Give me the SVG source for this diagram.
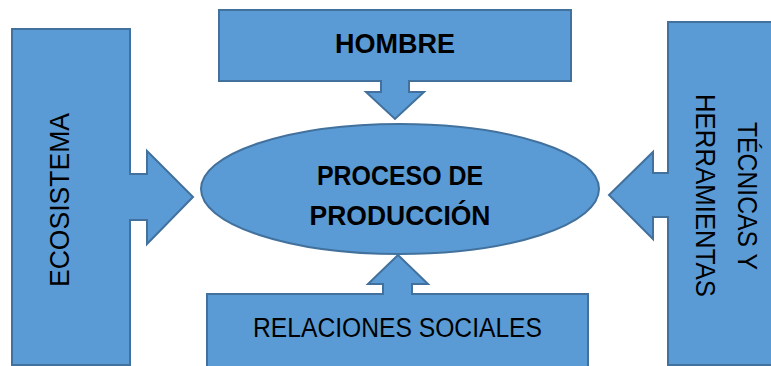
<svg xmlns="http://www.w3.org/2000/svg" width="771" height="366" viewBox="0 0 771 366">
<style>
.shape{fill:#5B9BD5;stroke:#41719C;stroke-width:2;stroke-linejoin:miter}
.t{font-family:"Liberation Sans",Arial,sans-serif;font-size:27px;fill:#000;text-anchor:middle}
.b{font-weight:bold}
</style>
<rect width="771" height="366" fill="#fff"/>
<g id="connectors"></g>
<g id="ecosistema">
<path class="shape" d="M12,29 H130 V174 H147 V151 L193,197 L147,244 V220 H130 V365 H12 Z"/>
<text class="t" transform="translate(69,200) rotate(-90)" textLength="174" lengthAdjust="spacingAndGlyphs">ECOSISTEMA</text>
</g>
<g id="hombre">
<path class="shape" d="M219,10 H571 V81 H409 V92 H424 L395,119 L366,92 H381 V81 H219 Z"/>
<text class="t b" x="395" y="53" textLength="120" lengthAdjust="spacingAndGlyphs">HOMBRE</text>
</g>
<g id="tecnicas">
<path class="shape" d="M775,22 H668 V173 H653 V152 L609,195 L653,239 V217 H668 V365 H775"/>
<text class="t" transform="translate(738,196) rotate(90)" textLength="148" lengthAdjust="spacingAndGlyphs">TÉCNICAS Y</text>
<text class="t" transform="translate(696,195.5) rotate(90)" textLength="203" lengthAdjust="spacingAndGlyphs">HERRAMIENTAS</text>
</g>
<g id="relaciones">
<path class="shape" d="M207,370 V294 H383 V284 H368 L398,255 L428,284 H412 V294 H588 V370"/>
<text class="t" x="397.5" y="337" textLength="289" lengthAdjust="spacingAndGlyphs">RELACIONES SOCIALES</text>
</g>
<g id="proceso">
<ellipse class="shape" cx="400" cy="189" rx="199" ry="65"/>
<text class="t b" x="400" y="185" textLength="166" lengthAdjust="spacingAndGlyphs">PROCESO DE</text>
<text class="t b" x="400" y="225" textLength="181" lengthAdjust="spacingAndGlyphs">PRODUCCIÓN</text>
</g>
</svg>
